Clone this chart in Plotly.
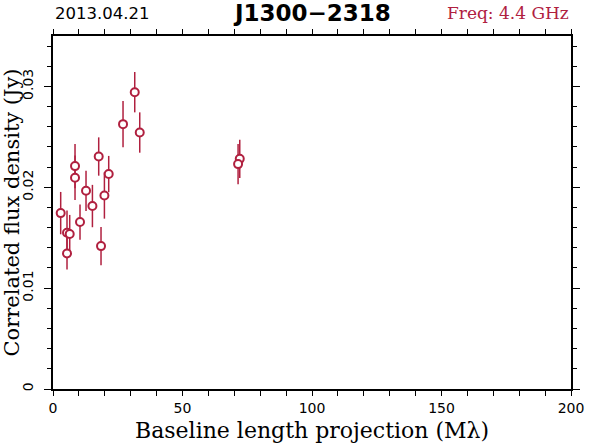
import plotly.graph_objects as go

# Data
baseline_mlambda = [2.97, 5.41, 6.45, 5.41, 8.50, 8.50, 10.43, 12.75, 15.22, 17.65,
                    18.54, 19.85, 21.51, 27.04, 31.56, 33.49, 72.11, 71.46]
flux_jy = [0.01744, 0.01549, 0.01536, 0.01344, 0.02210, 0.02094, 0.01655, 0.01965,
           0.01814, 0.02305, 0.01417, 0.01919, 0.02131, 0.02626, 0.02943, 0.02543,
           0.02282, 0.02230]
flux_err = [0.0021, 0.0022, 0.0019, 0.0016, 0.0022, 0.0022, 0.00175, 0.0020,
            0.0021, 0.0019, 0.0019, 0.0023, 0.0018, 0.0023, 0.0020, 0.0020,
            0.0019, 0.0020]

date_label = "2013.04.21"
source_name = "J1300\u22122318"
freq_label = "Freq: 4.4 GHz"
x_title = "Baseline length projection (M\u03bb)"
y_title = "Correlated flux density (Jy)"

RED = "#b0203f"

fig = go.Figure()
fig.add_trace(go.Scatter(
    x=baseline_mlambda, y=flux_jy, mode="markers",
    error_y=dict(type="data", array=flux_err, visible=True, color=RED, thickness=1.5, width=0),
    marker=dict(symbol="circle", size=8, color="white", line=dict(color=RED, width=2)),
    showlegend=False,
))

axis_common = dict(
    showline=True, linecolor="black", linewidth=1.5, mirror="allticks",
    ticks="outside", tickcolor="black", showgrid=False, zeroline=False,
    automargin=False,
    tickfont=dict(family="DejaVu Sans", size=14, color="black"),
)

fig.update_layout(
    width=590, height=443,
    margin=dict(l=53, r=19, t=36, b=54),
    paper_bgcolor="white", plot_bgcolor="white",
    xaxis=dict(
        range=[0, 200], tick0=0, dtick=50, ticklen=5, tickwidth=1,
        minor=dict(dtick=10, ticklen=5, ticks="outside", tickcolor="black", tickwidth=1),
        **axis_common,
    ),
    yaxis=dict(
        range=[0, 0.035], tick0=0, dtick=0.01, ticklen=7, tickwidth=1, tickangle=-90,
        tickformat=".2~f", ticklabelstandoff=6,
        minor=dict(dtick=0.002, ticklen=4, ticks="outside", tickcolor="black", tickwidth=1),
        **axis_common,
    ),
    annotations=[
        dict(text=date_label, xref="paper", yref="paper", x=0, y=1, yshift=23,
             xanchor="left", yanchor="middle", showarrow=False,
             font=dict(family="DejaVu Sans", size=16.5, color="black")),
        dict(text="<b>" + source_name + "</b>", xref="paper", yref="paper", x=0.5, y=1, yshift=23,
             xanchor="center", yanchor="middle", showarrow=False,
             font=dict(family="DejaVu Sans", size=23, color="black")),
        dict(text=freq_label, xref="paper", yref="paper", x=1, y=1, yshift=23,
             xanchor="right", yanchor="middle", showarrow=False,
             font=dict(family="DejaVu Serif", size=17, color=RED)),
        dict(text=x_title, xref="paper", yref="paper", x=0.5, y=0, yshift=-41,
             xanchor="center", yanchor="middle", showarrow=False,
             font=dict(family="DejaVu Serif", size=22, color="black")),
        dict(text=y_title, xref="paper", yref="paper", x=0, y=0.5, xshift=-42,
             xanchor="center", yanchor="middle", showarrow=False, textangle=-90,
             font=dict(family="DejaVu Serif", size=21, color="black")),
    ],
)

# remove the browser's default 8px body margin so the figure sits at the page origin
fig.write_html("out.html", config={"displayModeBar": False},
               post_script="document.body.style.margin='0';")
